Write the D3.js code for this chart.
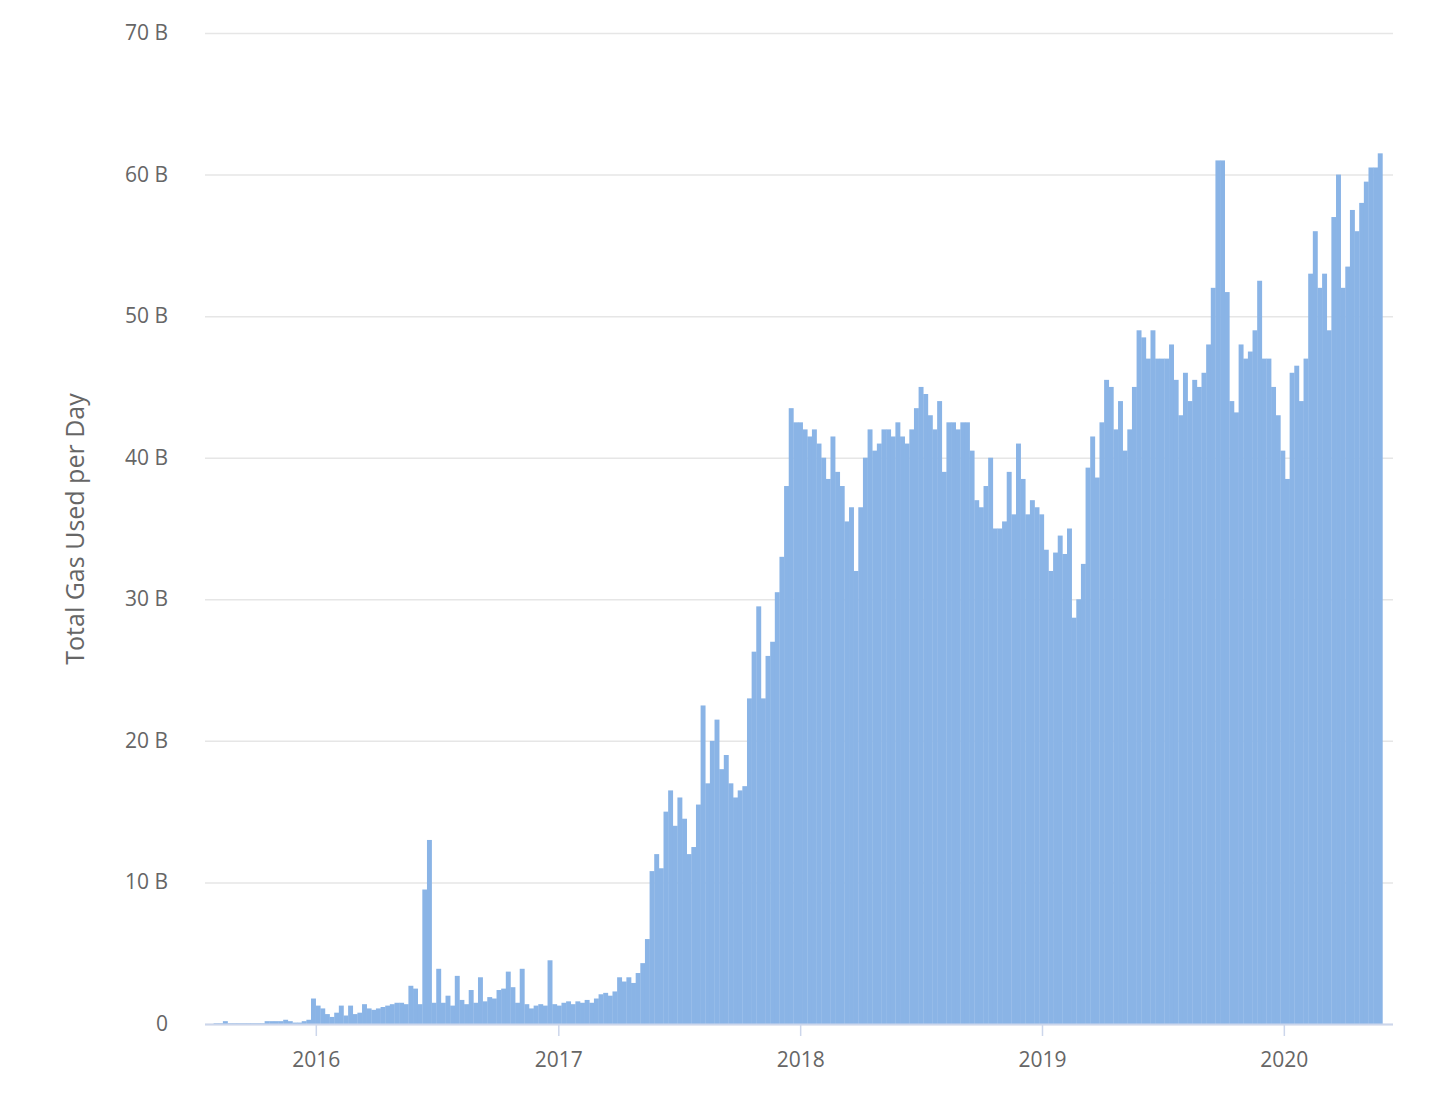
<!DOCTYPE html>
<html><head><meta charset="utf-8">
<script src="https://cdn.jsdelivr.net/npm/d3@7"></script>
<style>body{margin:0;background:#fff;font-family:"Open Sans","DejaVu Sans",sans-serif;}</style>
</head><body><svg id="c" width="1446" height="1098"></svg>
<script>
const startDate = "2015-07-30";
const v2015 = [0.05,0.05,0.2,0.05,0.05,0.05,0.05,0.05,0.05,0.05,0.05,0.2,0.2,0.2,0.2,0.3,0.2,0.1,0.1,0.2,0.3,1.8];
const v2016 = [1.3,1.1,0.7,0.5,0.8,1.3,0.6,1.3,0.7,0.8,1.4,1.1,1.0,1.1,1.2,1.3,1.4,1.5,1.5,1.4,2.7,2.5,1.4,9.5,13.0,1.5,3.9,1.5,2.0,1.3,3.4,1.7,1.4,2.4,1.5,3.3,1.6,1.9,1.8,2.4,2.5,3.7,2.6,1.5,3.9,1.4,1.1,1.3,1.4,1.3,4.5,1.4];
const v2017 = [1.3,1.5,1.6,1.4,1.6,1.5,1.7,1.5,1.8,2.1,2.2,2.0,2.3,3.3,3.0,3.3,2.9,
 3.6,4.3,6.0,10.8,12.0,11.0,15.0,16.5,14.0,16.0,14.5,12.0,12.5,15.5,22.5,17.0,20.0,21.5,18.0,19.0,
 17.0,16.0,16.5,16.8,23.0,26.3,29.5,23.0,26.0,27.0,30.5,33.0,38.0,43.5,42.5];
const v2018 = [42.5,42,41.5,42,41,40,38.5,41.5,39,38,35.5,36.5,32,36.5,40,42,40.5,41,42,42,41.5,42.5,41.5,41,42,43.5,45,44.5,43,42,44,39,42.5,42.5,42,42.5,42.5,40.5,37,36.5,38,40,35,35,35.5,39,36,41,38.5,36,37,36.5];
const v2019 = [36,33.5,32,33.3,34.5,33.2,35,28.7,30,32.5,
 39.3,41.5,38.6,42.5,45.5,45,42,44,40.5,42,
 45,49,48.5,47,49,47,47,47,48,45.5,
 43,46,44,45.5,45,46,48,52,61,61,
 51.7,44,43.2,48,47,47.5,49,52.5,47,47,45,43];
const v2020 = [40.5,38.5,46,46.5,44,47,53,56,52,53,49,57,60,52,53.5,57.5,56,58,59.5,60.5,60.5,61.5];
const yTicks = [0,10,20,30,40,50,60,70];
const yearTicks = ["2016","2017","2018","2019","2020"];

const values = [].concat(v2015,v2016,v2017,v2018,v2019,v2020);
const t0 = new Date(startDate+"T00:00:00");
const data = values.map((v,i)=>({d:d3.timeDay.offset(t0,7*i), v}));

const svg = d3.select("#c");
const m = {l:205, r:1393, t:33, b:1024};
const x = d3.scaleTime().domain([new Date("2015-07-17T00:00:00"), new Date("2020-06-13T00:00:00")]).range([m.l,m.r]);
const y = d3.scaleLinear().domain([0,70]).range([m.b,m.t]);

svg.append("g").selectAll("line").data(yTicks).join("line")
  .attr("x1",m.l).attr("x2",m.r).attr("y1",d=>y(d)+0.5).attr("y2",d=>y(d)+0.5)
  .attr("stroke","#e6e6e6").attr("stroke-width",1.5);
svg.append("g").selectAll("text").data(yTicks).join("text")
  .attr("x",168).attr("y",d=>y(d)+7).attr("text-anchor","end")
  .attr("font-size",21).attr("fill","#666").text(d=>d===0?"0":d+" B");

svg.append("g").selectAll("rect").data(data).join("rect")
  .attr("x",d=>x(d.d)).attr("width",d=>x(d3.timeDay.offset(d.d,7))-x(d.d)+0.3)
  .attr("y",d=>y(d.v)).attr("height",d=>y(0)-y(d.v)).attr("fill","#8ab4e6");

svg.append("line").attr("x1",m.l).attr("x2",m.r).attr("y1",m.b+0.5).attr("y2",m.b+0.5).attr("stroke","#ccd6eb").attr("stroke-width",2);
const xt = yearTicks.map(s=>new Date(s+"-01-01T00:00:00"));
svg.append("g").selectAll("line").data(xt).join("line")
  .attr("x1",d=>x(d)).attr("x2",d=>x(d)).attr("y1",m.b).attr("y2",m.b+12).attr("stroke","#ccd6eb").attr("stroke-width",1.5);
svg.append("g").selectAll("text").data(xt).join("text")
  .attr("x",d=>x(d)).attr("y",m.b+43).attr("text-anchor","middle")
  .attr("font-size",21).attr("fill","#666").text(d=>d3.timeFormat("%Y")(d));

svg.append("text").attr("transform","translate(84,529) rotate(-90)").attr("text-anchor","middle")
  .attr("font-size",25).attr("fill","#666").text("Total Gas Used per Day");
</script></body></html>
